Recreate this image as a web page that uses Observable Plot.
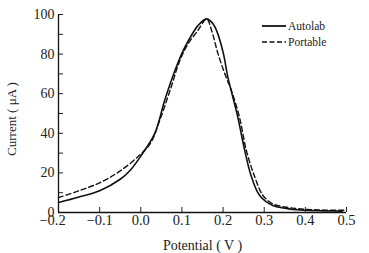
<!DOCTYPE html>
<html>
<head>
<meta charset="utf-8">
<script src="https://cdn.jsdelivr.net/npm/d3@7"></script>
<script src="https://cdn.jsdelivr.net/npm/@observablehq/plot@0.6"></script>
<style>
  html, body { margin: 0; padding: 0; background: #fff; }
  svg { display: block; }
</style>
</head>
<body>
<div id="chart"></div>
<script>
// Potential (V) and current (µA)
const autolabV = [-0.2, -0.15, -0.1, -0.05, -0.025, 0, 0.034, 0.058, 0.083, 0.103, 0.123, 0.139, 0.16, 0.175, 0.184, 0.2, 0.212, 0.224, 0.236, 0.253, 0.269, 0.289, 0.321, 0.35, 0.378, 0.4, 0.45, 0.49];
const autolabI = [5, 7.8, 11, 16.8, 21.5, 28.5, 40, 56.6, 71.7, 81.8, 89.4, 94.4, 97.8, 95.5, 92, 81, 68, 58, 48, 31, 18, 8.6, 3.5, 2.2, 1.4, 1.1, 0.8, 0.7];

const portableV = [-0.2, -0.15, -0.1, -0.05, 0, 0.025, 0.046, 0.071, 0.095, 0.115, 0.139, 0.16, 0.172, 0.188, 0.208, 0.218, 0.24, 0.257, 0.277, 0.297, 0.321, 0.35, 0.378, 0.4, 0.45, 0.5];
const portableI = [7.5, 11, 15, 21, 29.5, 35.5, 46.5, 61.6, 76.8, 85.2, 92, 97.8, 92, 80, 68, 63, 48, 31, 18, 8.6, 4.4, 2.8, 2, 1.6, 1.2, 1.1];

const seriesNames = ["Autolab", "Portable"];
const xTicks = [-0.2, -0.1, 0.0, 0.1, 0.2, 0.3, 0.4, 0.5];
const yTicks = [0, 10, 20, 30, 40, 50, 60, 70, 80, 90, 100];
const yLabels = [0, 20, 40, 60, 80, 100];
const xTitle = "Potential ( V )";
const yTitle = "Current ( μA )";

const autolab = autolabV.map((v, i) => ({V: v, I: autolabI[i]}));
const portable = portableV.map((v, i) => ({V: v, I: portableI[i]}));

const fmtX = d => (d < 0 ? "\u2212" : "") + Math.abs(d).toFixed(1);
const font = "'Liberation Serif', 'Times New Roman', serif";

const plot = Plot.plot({
  width: 369,
  height: 253,
  marginLeft: 58,
  marginRight: 23,
  marginTop: 14,
  marginBottom: 41,
  style: {fontFamily: font, fontSize: "14px", color: "#222", background: "#fff"},
  x: {domain: [-0.2, 0.5]},
  y: {domain: [0, 100]},
  marks: [
    // tick marks (inward)
    Plot.axisX({ticks: xTicks, tickSize: -5, tickFormat: () => "", label: null, strokeWidth: 1}),
    Plot.axisY({ticks: yTicks, tickSize: -5, tickFormat: () => "", label: null, strokeWidth: 1}),
    // tick labels (first x label nudged left as in the reference)
    Plot.axisX({ticks: xTicks.slice(0, 1), tickSize: 0, tickPadding: 2, tickFormat: fmtX, fontSize: 14.5, label: null, dx: -6}),
    Plot.axisX({ticks: xTicks.slice(1), tickSize: 0, tickPadding: 2, tickFormat: fmtX, fontSize: 14.5, label: null}),
    Plot.axisY({ticks: yLabels, tickSize: 0, tickPadding: 4, tickFormat: d => String(d), fontSize: 14, label: null}),
    Plot.ruleX([xTicks[0]], {stroke: "#111", strokeWidth: 1.3}),
    Plot.ruleY([yTicks[0]], {stroke: "#111", strokeWidth: 1.3}),
    Plot.line(autolab, {x: "V", y: "I", curve: "catmull-rom", stroke: "#111", strokeWidth: 1.6}),
    Plot.line(portable, {x: "V", y: "I", curve: "catmull-rom", stroke: "#111", strokeWidth: 1.4, strokeDasharray: "5,3"})
  ]
});

const svg = d3.select(plot);
// axis titles
svg.append("text").attr("font-family", font).attr("font-size", 14).attr("fill", "#222")
  .attr("text-anchor", "middle").attr("x", 202.5).attr("y", 250).text(xTitle);
svg.append("text").attr("font-family", font).attr("font-size", 13).attr("fill", "#222")
  .attr("text-anchor", "middle").attr("transform", "translate(16,119) rotate(-90)").text(yTitle);

// legend
const leg = svg.append("g").attr("font-family", font).attr("font-size", 11.5).attr("fill", "#222")
  .attr("text-anchor", "start");
seriesNames.forEach((name, i) => {
  const y = 26 + i * 16;
  leg.append("line").attr("x1", 262).attr("x2", 286).attr("y1", y).attr("y2", y)
    .attr("stroke", "#111").attr("stroke-width", i === 0 ? 1.8 : 1.5)
    .attr("stroke-dasharray", i === 0 ? null : "5,2.5");
  leg.append("text").attr("x", 288).attr("y", y).attr("dy", "0.35em").text(name);
});

document.getElementById("chart").appendChild(plot);
</script>
</body>
</html>
